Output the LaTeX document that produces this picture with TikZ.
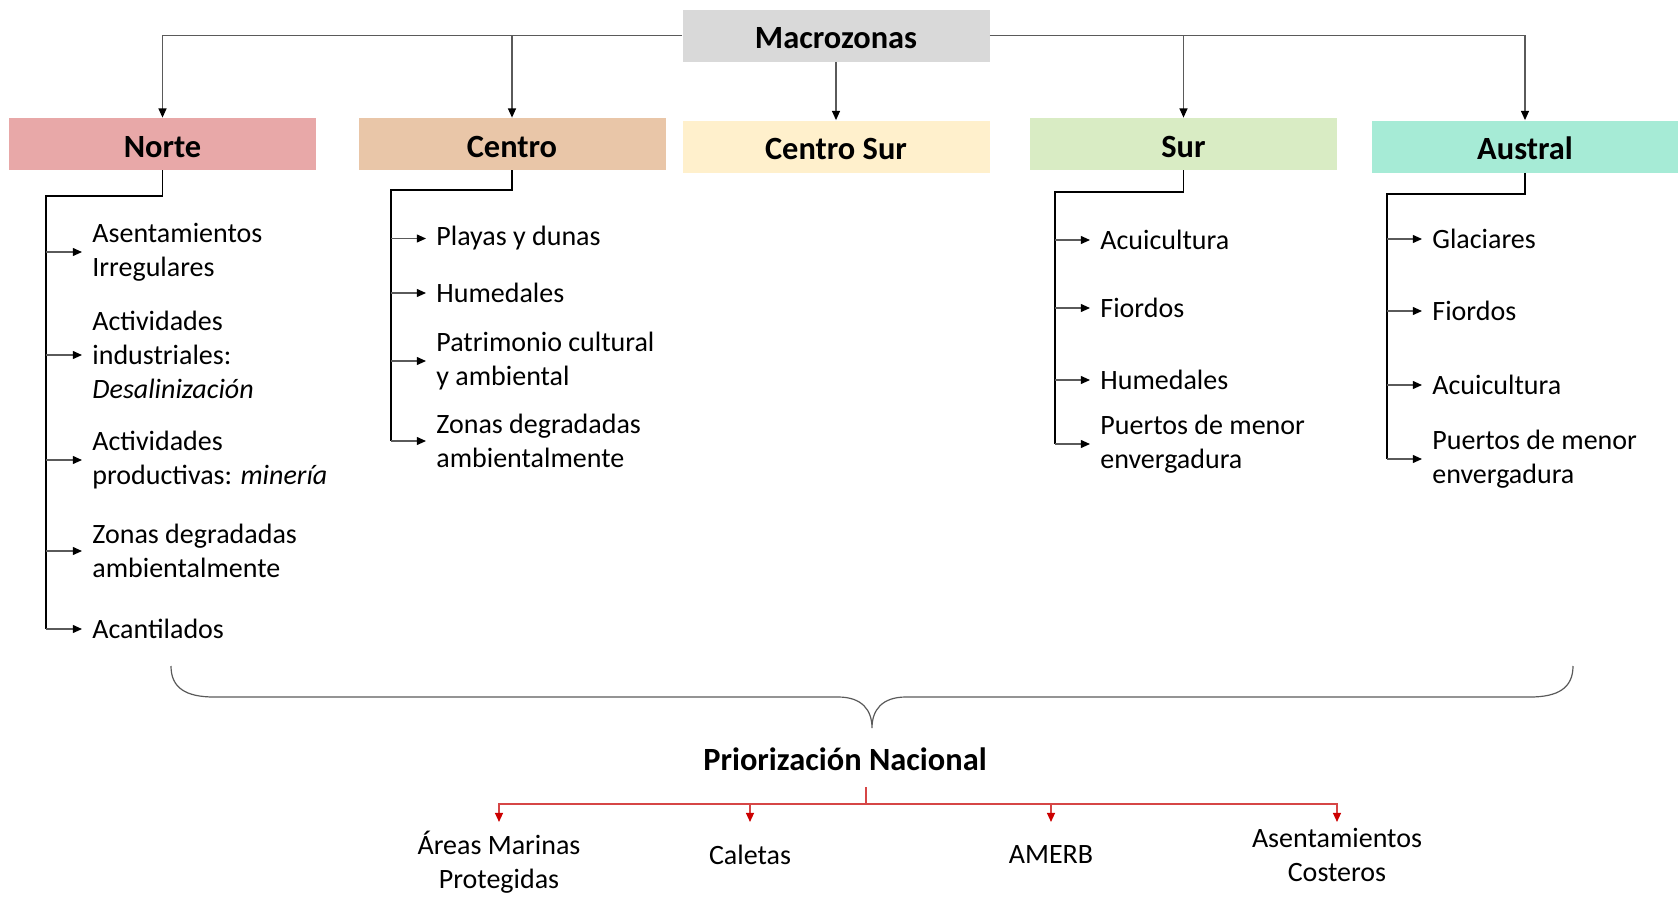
\documentclass[tikz,border=0pt]{standalone}
\usepackage{fontspec}
\setmainfont{Carlito}
\usetikzlibrary{arrows.meta}
\definecolor{cMac}{RGB}{217,217,217}
\definecolor{cNorte}{RGB}{232,168,168}
\definecolor{cCentro}{RGB}{233,198,168}
\definecolor{cCSur}{RGB}{255,240,204}
\definecolor{cSur}{RGB}{217,236,196}
\definecolor{cAustral}{RGB}{166,235,214}
\definecolor{cRed}{RGB}{204,0,0}
\definecolor{cRedL}{RGB}{214,70,70}
\definecolor{cGrayL}{RGB}{90,90,90}
\begin{document}
\begin{tikzpicture}[x=0.5pt,y=-0.5pt,
  box/.style={minimum width=153.5pt,minimum height=26pt,inner sep=0pt,
    text height=13pt,text depth=0pt,
    font=\fontsize{16.2}{19}\selectfont\bfseries},
  item/.style={anchor=west,align=left,inner sep=0pt,
    font=\fontsize{14}{17.1}\selectfont},
  lab/.style={align=center,inner sep=0pt,font=\fontsize{14}{17.1}\selectfont},
  tip/.style={-{Triangle[length=4.6pt,width=4pt,color=black]}},
  conn/.style={draw=cGrayL,line width=0.6pt,tip},
  trunk/.style={draw=black,line width=0.9pt},
  branch/.style={draw=cGrayL,line width=0.6pt,tip,shorten >=5pt},
  brace/.style={draw=cGrayL,line width=0.6pt},
  redline/.style={draw=cRedL,line width=0.8pt},
  redarr/.style={draw=cRedL,line width=0.8pt,-{Triangle[length=4.6pt,width=4pt,color=cRed]}}
]
\useasboundingbox (0,0) rectangle (1678,900);

% top boxes
\node[box,fill=cMac] (mac) at (836,35.5) {Macrozonas};
\node[box,fill=cNorte] (norte) at (162.5,144) {Norte};
\node[box,fill=cCentro] (centro) at (512,144) {Centro};
\node[box,fill=cCSur] (csur) at (836,146.5) {Centro Sur};
\node[box,fill=cSur] (sur) at (1183.5,144) {Sur};
\node[box,fill=cAustral] (austral) at (1525,146.5) {Austral};

\draw[conn] (mac.west) -| (norte.north);
\draw[conn] (mac.west) -| (centro.north);
\draw[conn] (mac.south) -- (csur.north);
\draw[conn] (mac.east) -| (sur.north);
\draw[conn] (mac.east) -| (austral.north);

% Norte list
\node[item] (n1) at (92,252) {Asentamientos\\Irregulares};
\node[item] (n2) at (92,355) {Actividades\\industriales:\\\textit{Desalinización}};
\node[item] (n3) at (92,460) {Actividades\\productivas: \textit{minería}};
\node[item] (n4) at (92,551) {Zonas degradadas\\ambientalmente};
\node[item] (n5) at (92,629) {Acantilados};
\coordinate (nE) at (46,196);
\draw[trunk] (norte.south) |- (nE) -- (nE |- n5.west);
\foreach \k in {n1,n2,n3,n4,n5} \draw[branch] (nE |- \k.west) -- (\k.west);

% Centro list
\node[item] (c1) at (436,238.5) {Playas y dunas};
\node[item] (c2) at (436,293) {Humedales};
\node[item] (c3) at (436,361) {Patrimonio cultural\\y ambiental};
\node[item] (c4) at (436,441) {Zonas degradadas\\ambientalmente};
\coordinate (cE) at (391,190);
\draw[trunk] (centro.south) |- (cE) -- (cE |- c4.west);
\foreach \k in {c1,c2,c3,c4} \draw[branch] (cE |- \k.west) -- (\k.west);

% Sur list
\node[item] (s1) at (1100,240) {Acuicultura};
\node[item] (s2) at (1100,308) {Fiordos};
\node[item] (s3) at (1100,380) {Humedales};
\node[item] (s4) at (1100,444) {Puertos de menor\\envergadura};
\coordinate (sE) at (1055,192);
\draw[trunk] (sur.south) |- (sE) -- (sE |- s4.west);
\foreach \k in {s1,s2,s3,s4} \draw[branch] (sE |- \k.west) -- (\k.west);

% Austral list
\node[item] (a1) at (1432,239) {Glaciares};
\node[item] (a2) at (1432,311) {Fiordos};
\node[item] (a3) at (1432,385) {Acuicultura};
\node[item] (a4) at (1432,459) {Puertos de menor\\envergadura};
\coordinate (aE) at (1387,194);
\draw[trunk] (austral.south) |- (aE) -- (aE |- a4.west);
\foreach \k in {a1,a2,a3,a4} \draw[branch] (aE |- \k.west) -- (\k.west);

% brace
\draw[brace] (171,666) .. controls (171,688) and (186,697) .. (214,697) -- (838,697)
  .. controls (862,697) and (872,710) .. (872,728)
  .. controls (872,710) and (882,697) .. (906,697) -- (1530,697)
  .. controls (1558,697) and (1573,688) .. (1573,666);

% national priorities
\node[inner sep=0pt,font=\fontsize{16.2}{19}\selectfont\bfseries] (prio) at (845,759) {Priorización Nacional};
\node[lab] (p1) at (499,862) {Áreas Marinas\\Protegidas};
\node[lab] (p2) at (750,855) {Caletas};
\node[lab] (p3) at (1051,855) {AMERB};
\node[lab] (p4) at (1337,855) {Asentamientos\\Costeros};
\coordinate (rtop) at (866,787);
\coordinate (rj) at (866,804);
\coordinate (tipY) at (0,822);
\draw[redline] (rtop) -- (rj);
\foreach \k in {p1,p2,p3,p4} \draw[redarr] (rj) -| (\k |- tipY);
\end{tikzpicture}
\end{document}
